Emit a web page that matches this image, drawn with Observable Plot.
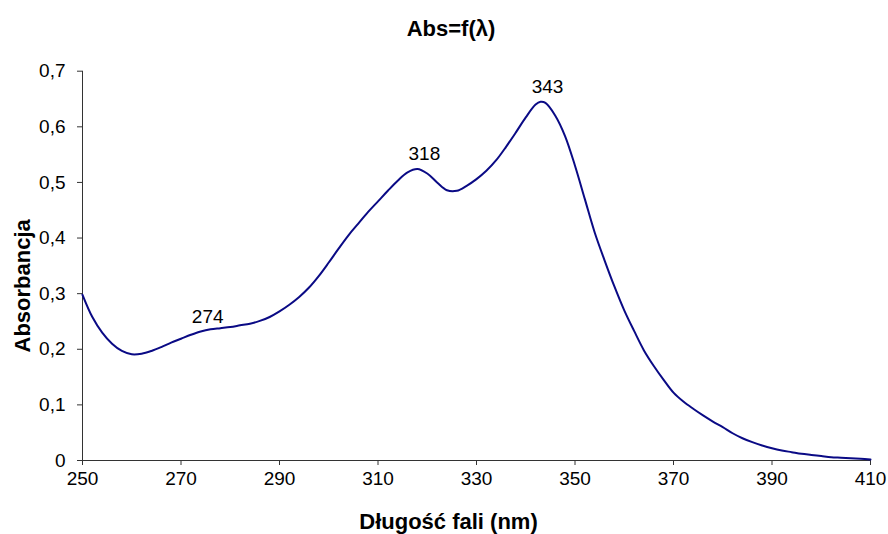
<!DOCTYPE html>
<html>
<head>
<meta charset="utf-8">
<script src="https://cdn.jsdelivr.net/npm/d3@7"></script>
<script src="https://cdn.jsdelivr.net/npm/@observablehq/plot@0.6"></script>
<style>
  html, body { margin: 0; padding: 0; background: #fff; }
  body { width: 888px; font-family: "Liberation Sans", Arial, sans-serif; }
  #title { height: 50px; box-sizing: border-box; padding-top: 17px; padding-left: 14px; line-height: 24px;
           font-size: 22px; font-weight: bold; text-align: center; color: #000; }
</style>
</head>
<body>
<div id="title">Abs=f(λ)</div>
<div id="chart"></div>
<script>
const wavelengths = [250,252,254,256,258,260,262,264,266,268,270,272,274,276,278,280,282,284,286,288,
  290,292,294,296,298,300,302,304,306,308,310,312,314,316,318,320,322,324,326,328,
  330,332,334,336,338,340,342,343,344,346,348,350,352,354,356,358,360,362,364,366,
  368,370,372,374,376,378,380,382,384,386,388,390,392,394,396,398,400,402,404,406,408,410];
const absorbance = [0.298,0.258,0.230,0.210,0.197,0.191,0.192,0.197,0.204,0.212,0.219,0.226,0.232,0.236,0.238,0.240,0.243,0.246,0.251,0.258,
  0.268,0.280,0.294,0.311,0.332,0.356,0.381,0.405,0.426,0.447,0.466,0.485,0.503,0.518,0.524,0.516,0.500,0.486,0.485,0.494,
  0.506,0.521,0.540,0.564,0.590,0.617,0.640,0.645,0.643,0.620,0.583,0.530,0.470,0.410,0.360,0.313,0.270,0.233,0.198,0.170,
  0.145,0.122,0.106,0.093,0.081,0.070,0.060,0.049,0.040,0.033,0.027,0.022,0.018,0.015,0.012,0.010,0.008,0.006,0.005,0.004,0.003,0.002];
const peakWavelengths = [274, 318, 343];
const peakLabels = ["274", "318", "343"];
const xTicks = [250,270,290,310,330,350,370,390,410];
const yTicks = [0,0.1,0.2,0.3,0.4,0.5,0.6,0.7];
const xLabel = "Długość fali (nm)";
const yLabel = "Absorbancja";

const data = wavelengths.map((w, i) => ({wl: w, abs: absorbance[i]}));
const peaks = peakWavelengths.map((w, i) => ({wl: w, abs: absorbance[wavelengths.indexOf(w)], label: peakLabels[i]}));

const chart = Plot.plot({
  width: 888,
  height: 484,
  marginLeft: 82,
  marginRight: 18,
  marginTop: 20.7,
  marginBottom: 74,
  style: {fontFamily: "Liberation Sans, Arial, sans-serif", fontSize: "19px", color: "#000", background: "#fff"},
  x: {domain: [250, 410]},
  y: {domain: [0, 0.7]},
  marks: [
    Plot.axisX({ticks: xTicks, tickSize: 5, tickPadding: 6, label: null, stroke: "#333", fontSize: 19}),
    Plot.axisY({ticks: yTicks, tickSize: 5, tickPadding: 12, label: null, stroke: "#333", fontSize: 19,
      tickFormat: d => d === 0 ? "0" : d3.format(".1f")(d).replace(".", ",")}),
    Plot.ruleX([250], {stroke: "#333", strokeWidth: 1}),
    Plot.ruleY([0], {stroke: "#333", strokeWidth: 1}),
    Plot.line(data, {x: "wl", y: "abs", stroke: "#0a0a85", strokeWidth: 2, curve: "catmull-rom"}),
    Plot.text(peaks, {x: "wl", y: "abs", text: "label", dx: 7, dy: -15, fontSize: 19, fill: "#000"}),
    Plot.text([xLabel], {frameAnchor: "bottom", lineAnchor: "middle", dx: -28, dy: 61, fontSize: 22, fontWeight: "bold", fill: "#000"}),
    Plot.text([yLabel], {frameAnchor: "left", textAnchor: "middle", lineAnchor: "middle", rotate: -90, dx: -60, dy: 20, fontSize: 22, fontWeight: "bold", fill: "#000"})
  ]
});
document.getElementById("chart").appendChild(chart);
</script>
</body>
</html>
